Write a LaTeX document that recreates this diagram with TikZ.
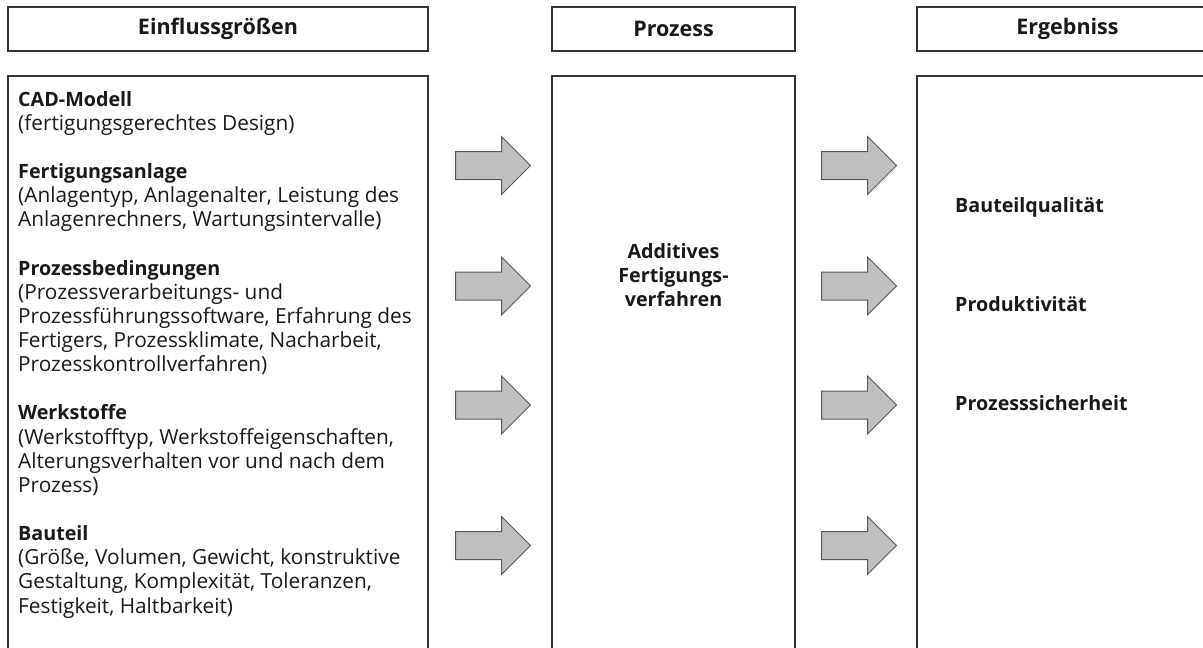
\documentclass[tikz,border=0pt]{standalone}
\usepackage{fontspec}
\setmainfont{Open Sans}
\usetikzlibrary{shapes.arrows}
\newcommand{\titel}[1]{{\fontsize{19.7}{24.14}\selectfont\bfseries #1}}

\begin{document}
\begin{tikzpicture}[x=1pt, y=-1pt,
  box/.style={draw=black!80, line width=1.6pt, minimum height=44pt, inner sep=0pt},
  kopf/.style={font=\fontsize{21.5}{24.14}\selectfont\bfseries, text=black!90},
  inhalt/.style={font=\fontsize{20.8}{24.14}\selectfont, text=black!90, align=left, inner sep=0pt},
  ergebnistext/.style={inhalt, font=\fontsize{19.7}{24.14}\selectfont\bfseries},
  pfeil/.style={single arrow, anchor=tail, draw=black!65, fill=black!25, line width=1pt, minimum height=75pt, minimum width=57pt, single arrow head extend=15pt, inner xsep=0pt, inner ysep=13.5pt}]
\useasboundingbox (0,0) rectangle (1203,648);
\clip (0,0) rectangle (1203,648);

% Kopfzeilen
\node [box, kopf, minimum width=420pt] (einfluss) at (218,29) {Einflussgrößen};
\node [box, kopf, minimum width=243pt] (prozess) at (673.5,29) {Prozess};
\node [box, kopf, minimum width=301pt] (ergebnis) at (1067.5,29) {Ergebniss};

% Spalten
\node [box, minimum width=420pt, minimum height=590pt] (einflussbox) at (218,371) {};
\node [box, minimum width=243pt, minimum height=590pt] (prozessbox) at (673.5,371) {};
\node [box, minimum width=301pt, minimum height=590pt] (ergebnisbox) at (1067.5,371) {};

% Pfeile
\node [pfeil] (pfeil1) at (455,165.5) {};
\node [pfeil] (pfeil2) at (455,286) {};
\node [pfeil] (pfeil3) at (455,405) {};
\node [pfeil] (pfeil4) at (455,545.5) {};
\node [pfeil] (pfeil5) at (821,165.5) {};
\node [pfeil] (pfeil6) at (821,286) {};
\node [pfeil] (pfeil7) at (821,405) {};
\node [pfeil] (pfeil8) at (821,545.5) {};

% Texte
\node [inhalt, anchor=base west] (faktoren) at (18,613) {\titel{CAD-Modell}\\
(fertigungsgerechtes Design)\\[24.14pt]
\titel{Fertigungsanlage}\\
(Anlagentyp, Anlagenalter, Leistung des\\
Anlagenrechners, Wartungsintervalle)\\[24.14pt]
\titel{Prozessbedingungen}\\
(Prozessverarbeitungs- und\\
Prozessführungssoftware, Erfahrung des\\
Fertigers, Prozessklimate, Nacharbeit,\\
Prozesskontrollverfahren)\\[24.14pt]
\titel{Werkstoffe}\\
(Werkstofftyp, Werkstoffeigenschaften,\\
Alterungsverhalten vor und nach dem\\
Prozess)\\[24.14pt]
\titel{Bauteil}\\
(Größe, Volumen, Gewicht, konstruktive\\
Gestaltung, Komplexität, Toleranzen,\\
Festigkeit, Haltbarkeit)};
\node [ergebnistext, align=center, anchor=base] (verfahren) at (673.5,306.5) {Additives\\Fertigungs-\\verfahren};
\node [ergebnistext, anchor=base west] (qualitaet) at (955,212) {Bauteilqualität};
\node [ergebnistext, anchor=base west] (produktiv) at (955,311) {Produktivität};
\node [ergebnistext, anchor=base west] (sicherheit) at (955,410) {Prozesssicherheit};
\end{tikzpicture}
\end{document}
